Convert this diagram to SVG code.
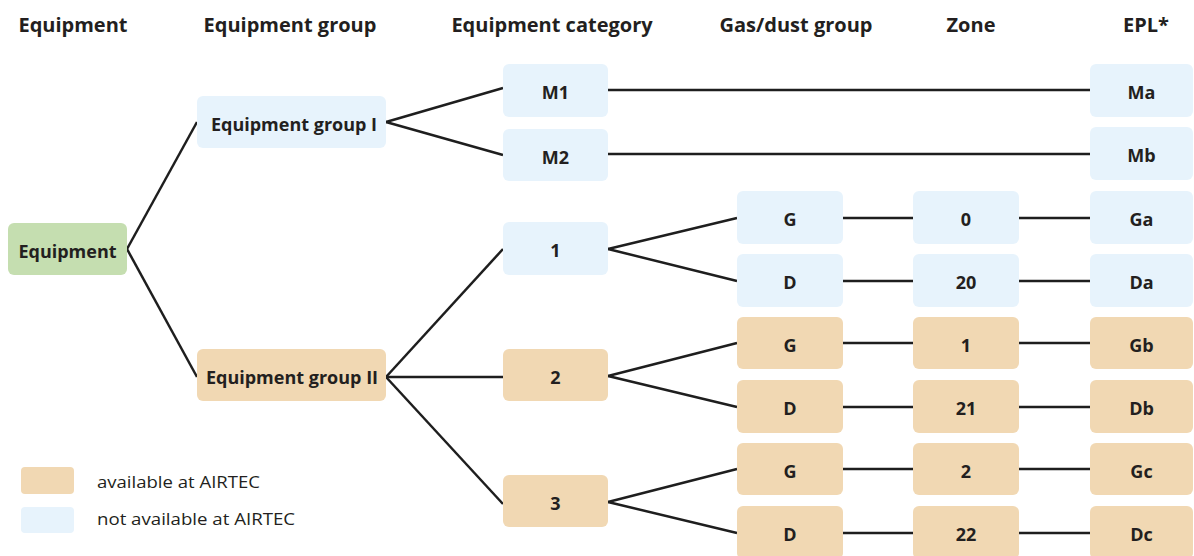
<svg xmlns="http://www.w3.org/2000/svg" width="1194" height="556" viewBox="0 0 1194 556">
<style>
.hdr{font-family:"Open Sans","Noto Sans",sans-serif;font-weight:700;font-size:20px;fill:#231F20;text-anchor:middle}
.lbl{font-family:"Open Sans","Noto Sans",sans-serif;font-weight:700;font-size:18px;fill:#231F20;text-anchor:middle}
.leg{font-family:"Open Sans","Noto Sans",sans-serif;font-weight:400;font-size:17px;fill:#231F20}
.blue{fill:#E7F3FC}
.orange{fill:#F1D8B3}
.green{fill:#C5DEB0}
.conn line{stroke:#1E1E1E;stroke-width:2.5;stroke-linecap:butt}
</style>
<rect width="1194" height="556" fill="#FFFFFF"/>
<g id="headers">
<text class="hdr" x="73" y="32">Equipment</text>
<text class="hdr" x="290" y="32">Equipment group</text>
<text class="hdr" x="552" y="32">Equipment category</text>
<text class="hdr" x="796" y="32">Gas/dust group</text>
<text class="hdr" x="971" y="32">Zone</text>
<text class="hdr" x="1146" y="32">EPL*</text>
</g>
<g class="conn" id="connectors">
<line x1="127" y1="249" x2="197" y2="122"/>
<line x1="127" y1="249" x2="197" y2="377"/>
<line x1="386" y1="122" x2="503" y2="88"/>
<line x1="386" y1="122" x2="503" y2="155"/>
<line x1="608" y1="90" x2="1090" y2="90"/>
<line x1="608" y1="154" x2="1090" y2="154"/>
<line x1="386" y1="377" x2="503" y2="249"/>
<line x1="386" y1="377" x2="503" y2="377"/>
<line x1="386" y1="377" x2="503" y2="504"/>
<line x1="608" y1="249" x2="737" y2="218"/>
<line x1="608" y1="249" x2="737" y2="281"/>
<line x1="608" y1="376" x2="737" y2="343"/>
<line x1="608" y1="376" x2="737" y2="407"/>
<line x1="608" y1="502" x2="737" y2="469"/>
<line x1="608" y1="502" x2="737" y2="533"/>
<line x1="843" y1="218" x2="913" y2="218"/>
<line x1="1019" y1="218" x2="1090" y2="218"/>
<line x1="843" y1="281" x2="913" y2="281"/>
<line x1="1019" y1="281" x2="1090" y2="281"/>
<line x1="843" y1="343" x2="913" y2="343"/>
<line x1="1019" y1="343" x2="1090" y2="343"/>
<line x1="843" y1="407" x2="913" y2="407"/>
<line x1="1019" y1="407" x2="1090" y2="407"/>
<line x1="843" y1="469" x2="913" y2="469"/>
<line x1="1019" y1="469" x2="1090" y2="469"/>
<line x1="843" y1="533" x2="913" y2="533"/>
<line x1="1019" y1="533" x2="1090" y2="533"/>
</g>
<g id="equipment"><rect class="green" x="8" y="223" width="119" height="52" rx="6"/><text class="lbl" x="67.5" y="257.5">Equipment</text></g>
<g id="group1"><rect class="blue" x="197" y="96" width="189" height="52" rx="6"/><text class="lbl" x="294" y="130.5">Equipment group I</text></g>
<g id="group2"><rect class="orange" x="197" y="349" width="189" height="52" rx="6"/><text class="lbl" x="292" y="383.5">Equipment group II</text></g>
<g id="catM1"><rect class="blue" x="503" y="64" width="105" height="53" rx="6"/><text class="lbl" x="555.5" y="99">M1</text></g>
<g id="catM2"><rect class="blue" x="503" y="129" width="105" height="52" rx="6"/><text class="lbl" x="555.5" y="163.5">M2</text></g>
<g id="cat1"><rect class="blue" x="503" y="222" width="105" height="53" rx="6"/><text class="lbl" x="555.5" y="257">1</text></g>
<g id="cat2"><rect class="orange" x="503" y="349" width="105" height="52" rx="6"/><text class="lbl" x="555.5" y="383.5">2</text></g>
<g id="cat3"><rect class="orange" x="503" y="475" width="105" height="52" rx="6"/><text class="lbl" x="555.5" y="509.5">3</text></g>
<g id="gas1G"><rect class="blue" x="737" y="191" width="106" height="53" rx="6"/><text class="lbl" x="790" y="226">G</text></g>
<g id="gas1D"><rect class="blue" x="737" y="254" width="106" height="53" rx="6"/><text class="lbl" x="790" y="289">D</text></g>
<g id="gas2G"><rect class="orange" x="737" y="317" width="106" height="52" rx="6"/><text class="lbl" x="790" y="351.5">G</text></g>
<g id="gas2D"><rect class="orange" x="737" y="380" width="106" height="53" rx="6"/><text class="lbl" x="790" y="415">D</text></g>
<g id="gas3G"><rect class="orange" x="737" y="443" width="106" height="52" rx="6"/><text class="lbl" x="790" y="477.5">G</text></g>
<g id="gas3D"><rect class="orange" x="737" y="506" width="106" height="53" rx="6"/><text class="lbl" x="790" y="541">D</text></g>
<g id="zone0"><rect class="blue" x="913" y="191" width="106" height="53" rx="6"/><text class="lbl" x="966" y="226">0</text></g>
<g id="zone20"><rect class="blue" x="913" y="254" width="106" height="53" rx="6"/><text class="lbl" x="966" y="289">20</text></g>
<g id="zone1"><rect class="orange" x="913" y="317" width="106" height="52" rx="6"/><text class="lbl" x="966" y="351.5">1</text></g>
<g id="zone21"><rect class="orange" x="913" y="380" width="106" height="53" rx="6"/><text class="lbl" x="966" y="415">21</text></g>
<g id="zone2"><rect class="orange" x="913" y="443" width="106" height="52" rx="6"/><text class="lbl" x="966" y="477.5">2</text></g>
<g id="zone22"><rect class="orange" x="913" y="506" width="106" height="53" rx="6"/><text class="lbl" x="966" y="541">22</text></g>
<g id="eplMa"><rect class="blue" x="1090" y="64" width="103" height="53" rx="6"/><text class="lbl" x="1141.5" y="99">Ma</text></g>
<g id="eplMb"><rect class="blue" x="1090" y="127" width="103" height="53" rx="6"/><text class="lbl" x="1141.5" y="162">Mb</text></g>
<g id="eplGa"><rect class="blue" x="1090" y="191" width="103" height="53" rx="6"/><text class="lbl" x="1141.5" y="226">Ga</text></g>
<g id="eplDa"><rect class="blue" x="1090" y="254" width="103" height="53" rx="6"/><text class="lbl" x="1141.5" y="289">Da</text></g>
<g id="eplGb"><rect class="orange" x="1090" y="317" width="103" height="52" rx="6"/><text class="lbl" x="1141.5" y="351.5">Gb</text></g>
<g id="eplDb"><rect class="orange" x="1090" y="380" width="103" height="53" rx="6"/><text class="lbl" x="1141.5" y="415">Db</text></g>
<g id="eplGc"><rect class="orange" x="1090" y="443" width="103" height="52" rx="6"/><text class="lbl" x="1141.5" y="477.5">Gc</text></g>
<g id="eplDc"><rect class="orange" x="1090" y="506" width="103" height="53" rx="6"/><text class="lbl" x="1141.5" y="541">Dc</text></g>
<g id="legend">
<rect class="orange" x="21" y="467" width="53" height="27" rx="4"/>
<text class="leg" x="97" y="488" textLength="163" lengthAdjust="spacingAndGlyphs">available at AIRTEC</text>
<rect class="blue" x="21" y="507" width="53" height="26" rx="4"/>
<text class="leg" x="97" y="525" textLength="198" lengthAdjust="spacingAndGlyphs">not available at AIRTEC</text>
</g>
</svg>
